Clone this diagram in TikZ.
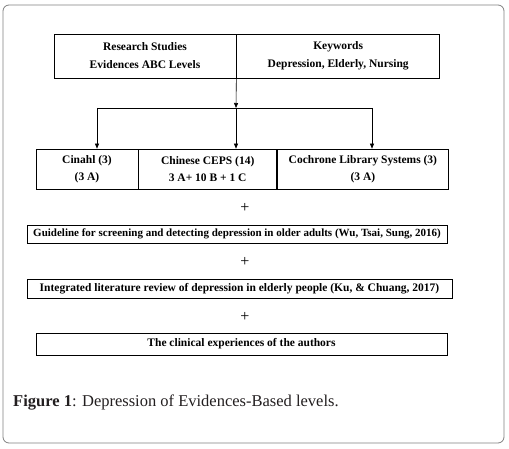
\documentclass[tikz,border=0pt]{standalone}
\usepackage{fontspec}
\setmainfont{Liberation Serif}
\usetikzlibrary{positioning, arrows.meta}
\definecolor{framegray}{RGB}{128, 128, 128}
\definecolor{captionink}{RGB}{35, 31, 32}

\begin{document}
\begin{tikzpicture}[x=1pt, y=-1pt,
      node distance=0pt,
      cell/.style={draw, line width=0.7pt, inner sep=0pt, align=center,
                   font=\bfseries\fontsize{11.5}{18}\selectfont},
      bar/.style={draw, line width=0.7pt, inner sep=0pt, align=center,
                  font=\bfseries\fontsize{11.5}{13}\selectfont},
      plus/.style={inner sep=0pt, font=\fontsize{16}{16}\selectfont},
      arr/.style={-{Triangle[length=5pt, width=4pt]}, line width=0.6pt}]
    \useasboundingbox (0,0) rectangle (509,449);
    \draw[framegray, line width=0.8pt, rounded corners=6pt] (3,5) rectangle (504,443);
    % search terms
    \node[cell, minimum width=182pt, minimum height=44pt] (rs) at (145,56)
      {Research Studies\\ Evidences ABC Levels};
    \node[cell, minimum width=203pt, minimum height=44pt, right=of rs] (kw)
      {Keywords\\ Depression, Elderly, Nursing};
    % databases
    \node[cell, minimum width=102pt, minimum height=40pt,
          font=\bfseries\fontsize{11.5}{17}\selectfont] (cin) at (87,169)
      {Cinahl (3)\\ (3 A)};
    \node[cell, minimum width=138pt, minimum height=40pt,
          font=\bfseries\fontsize{11.5}{17}\selectfont, right=of cin] (ceps)
      {Chinese CEPS (14)\\ 3 A+ 10 B + 1 C};
    \node[cell, minimum width=171pt, minimum height=40pt,
          font=\bfseries\fontsize{11.5}{17}\selectfont, right=of ceps] (coch)
      {Cochrone Library Systems (3)\\ (3 A)};
    % further sources
    \node[plus] (p1) at (245,208) {+};
    \node[bar, minimum width=420pt, minimum height=18pt,
          font=\bfseries\fontsize{11}{13}\selectfont] (guide) at (237,234)
      {Guideline for screening and detecting depression in older adults (Wu, Tsai, Sung, 2016)};
    \node[plus] (p2) at (245,262) {+};
    \node[bar, minimum width=425pt, minimum height=19pt] (integ) at (239.5,288.5)
      {Integrated literature review of depression in elderly people (Ku, \& Chuang, 2017)};
    \node[plus] (p3) at (245,317) {+};
    \node[bar, minimum width=411pt, minimum height=22pt] (clin) at (241.5,344)
      {The clinical experiences of the authors};
    \node[anchor=west, inner sep=0pt, text=captionink,
          font=\fontsize{16.5}{18}\selectfont] (cap) at (13,403)
      {\textbf{Figure 1}: Depression of Evidences-Based levels.};
    % connectors
    \coordinate (split) at (236,108);
    \coordinate (lft) at (97,108);
    \coordinate (rgt) at (372,108);
    \draw[arr] (rs.south east) -- (split);
    \draw[line width=0.6pt] (lft) -- (rgt);
    \draw[arr] (lft) -- (lft |- cin.north);
    \draw[arr] (split) -- (split |- ceps.north);
    \draw[arr] (rgt) -- (rgt |- coch.north);
  \end{tikzpicture}
\end{document}
